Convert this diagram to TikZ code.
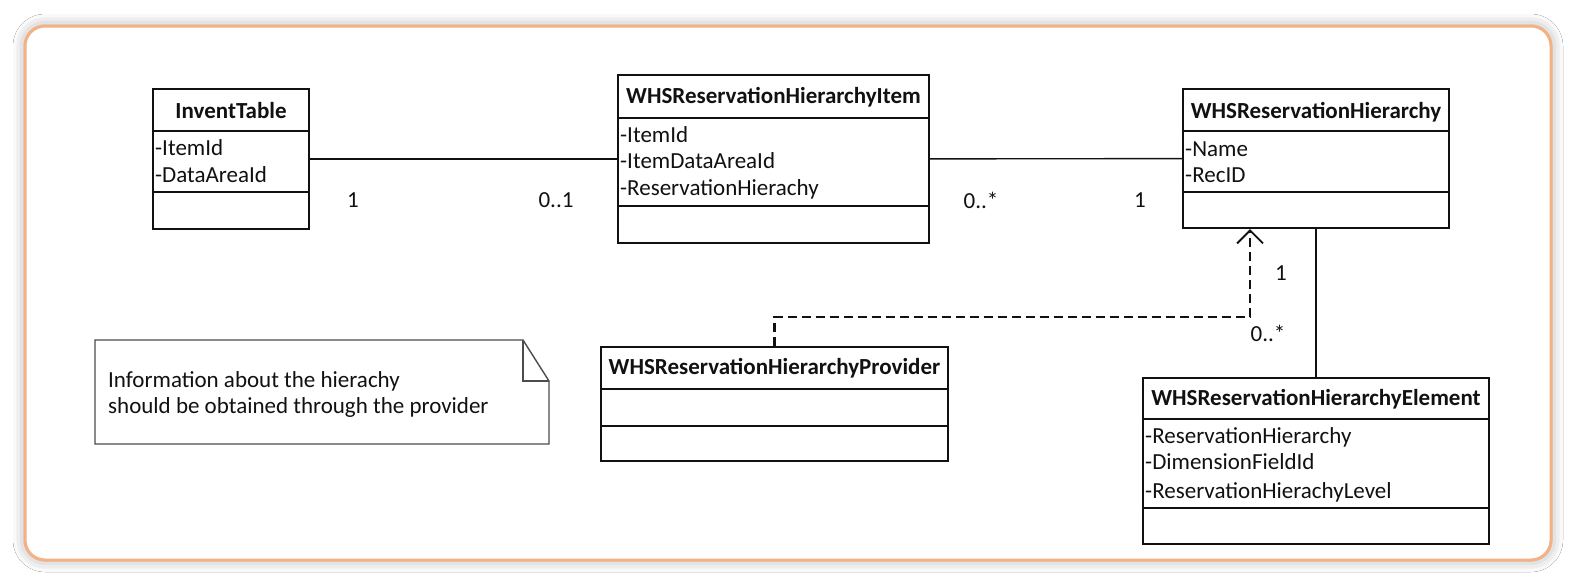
\documentclass[tikz,border=0pt]{standalone}
\usepackage{fontspec}
\setmainfont{Carlito}
\usetikzlibrary{arrows.meta,shadows.blur}
\definecolor{frameor}{HTML}{F4B183}
\definecolor{ink}{HTML}{111111}
\tikzset{
  frame/.style={draw=frameor, line width=3pt, rounded corners=20pt, fill=white,
    blur shadow={shadow xshift=0pt, shadow yshift=0pt, shadow blur radius=12pt, shadow opacity=35}},
  classbox/.style={draw=ink, line width=2.4pt, fill=white, inner sep=0pt},
  divider/.style={draw=ink, line width=2.4pt},
  hdr/.style={font=\fontsize{23}{27}\selectfont\bfseries, text=ink, inner sep=0pt, anchor=base},
  attr/.style={font=\fontsize{23}{27}\selectfont, text=ink, inner sep=0pt, anchor=base west},
  mult/.style={font=\fontsize{23}{27}\selectfont, text=ink, inner sep=0pt},
  assoc/.style={draw=ink, line width=1.4pt},
  depend/.style={draw=ink, line width=2.6pt, dash pattern=on 9pt off 5pt,
    -{Straight Barb[length=13pt,width=26pt,line width=1.8pt]}},
  notebox/.style={draw=ink!75, line width=1.4pt}
}
\begin{document}
\begin{tikzpicture}[x=1pt,y=-1pt]
\useasboundingbox (0,0) rectangle (1577,587);
\fill[white] (0,0) rectangle (1577,587);
\path[frame] (25,26) rectangle (1551,560);

% InventTable
\node[classbox, minimum width=156pt, minimum height=140pt] (inv) at (231,159) {};
\path[divider] (inv.west |- 0,131) -- (inv.east |- 0,131);
\path[divider] (inv.west |- 0,192) -- (inv.east |- 0,192);
\node[hdr] (invh) at (inv.center |- 0,118) {InventTable};
\node[attr] (inva) at (155,155) {-ItemId};
\node[attr] (invb) at (155,182) {-DataAreaId};

% WHSReservationHierarchyItem
\node[classbox, minimum width=311pt, minimum height=168pt] (item) at (773.5,159) {};
\path[divider] (item.west |- 0,118) -- (item.east |- 0,118);
\path[divider] (item.west |- 0,206) -- (item.east |- 0,206);
\node[hdr] (itemh) at (item.center |- 0,103) {WHSReservationHierarchyItem};
\node[attr] (itema) at (620,142) {-ItemId};
\node[attr] (itemb) at (620,168) {-ItemDataAreaId};
\node[attr] (itemc) at (620,195) {-ReservationHierachy};

% WHSReservationHierarchy
\node[classbox, minimum width=266pt, minimum height=139pt] (hier) at (1316,158.5) {};
\path[divider] (hier.west |- 0,131) -- (hier.east |- 0,131);
\path[divider] (hier.west |- 0,192) -- (hier.east |- 0,192);
\node[hdr] (hierh) at (hier.center |- 0,118) {WHSReservationHierarchy};
\node[attr] (hiera) at (1185,156) {-Name};
\node[attr] (hierb) at (1185,182) {-RecID};

% WHSReservationHierarchyProvider
\node[classbox, minimum width=347pt, minimum height=114pt] (prov) at (774.5,404) {};
\path[divider] (prov.west |- 0,389) -- (prov.east |- 0,389);
\path[divider] (prov.west |- 0,426) -- (prov.east |- 0,426);
\node[hdr] (provh) at (prov.center |- 0,374) {WHSReservationHierarchyProvider};

% WHSReservationHierarchyElement
\node[classbox, minimum width=346pt, minimum height=166pt] (elem) at (1316,461) {};
\path[divider] (elem.west |- 0,419) -- (elem.east |- 0,419);
\path[divider] (elem.west |- 0,508) -- (elem.east |- 0,508);
\node[hdr] (elemh) at (elem.center |- 0,405) {WHSReservationHierarchyElement};
\node[attr] (elema) at (1145,443) {-ReservationHierarchy};
\node[attr] (elemb) at (1145,469) {-DimensionFieldId};
\node[attr] (elemc) at (1145,498) {-ReservationHierachyLevel};

% Note
\coordinate (nA) at (95,340);
\coordinate (nB) at (523,340);
\coordinate (nC) at (549,381);
\coordinate (nD) at (549,444);
\coordinate (nE) at (95,444);
\path[notebox] (nA) -- (nB) -- (nC) -- (nD) -- (nE) -- cycle;
\path[notebox] (nB) |- (nC);
\node[attr] (note1) at (108,387) {Information about the hierachy};
\node[attr] (note2) at (108,413) {should be obtained through the provider};

% Connectors
\path[assoc] (inv) -- (item);
\path[assoc] (item) -- (hier);
\path[assoc] (hier) -- (elem);
\coordinate (bend) at (1250,317);
\path[depend] (prov.north) |- (bend) -- (hier.south -| bend);

% Multiplicities
\node[mult] (m1) at (353,200) {1};
\node[mult] (m2) at (556,200) {0..1};
\node[mult] (m3) at (981,200) {0..*};
\node[mult] (m4) at (1140,200) {1};
\node[mult] (m5) at (1281,273) {1};
\node[mult] (m6) at (1268,333) {0..*};
\end{tikzpicture}
\end{document}
